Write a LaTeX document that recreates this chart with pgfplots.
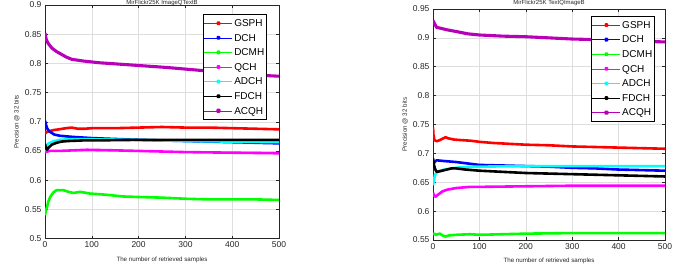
\documentclass[border=0pt]{standalone}
\usepackage{fontspec}
\setmainfont{Liberation Sans}
\usepackage{pgfplots}
\pgfplotsset{compat=1.18}
\definecolor{axgray}{rgb}{0.15,0.15,0.15}
\definecolor{gridgray}{rgb}{0.87,0.87,0.87}
\definecolor{cRed}{rgb}{1,0,0}
\definecolor{cBlue}{rgb}{0,0,1}
\definecolor{cGreen}{rgb}{0,1,0}
\definecolor{cMag}{rgb}{1,0,1}
\definecolor{cCyan}{rgb}{0,1,1}
\definecolor{cPurp}{rgb}{0.72,0,0.72}
\pgfplotsset{
  mystyle/.style={
    scale only axis,
    anchor=south west,
    xmin=0, xmax=500,
    xtick={0,100,...,500},
    grid=major,
    major grid style={gridgray, line width=0.5pt},
    axis line style={axgray, line width=0.6pt},
    every tick/.style={axgray, line width=0.5pt},
    major tick length=3pt,
    tick align=inside,
    tick label style={font=\fontsize{8.5}{10}\selectfont, text=axgray},
    /pgf/number format/assume math mode=true,
    yticklabel style={/pgf/number format/fixed, /pgf/number format/precision=2},
    xticklabel style={/pgf/number format/fixed},
    label style={font=\fontsize{6.2}{7}\selectfont, text=axgray},
    every axis title/.style={font=\fontsize{6}{7}\selectfont, text=axgray, at={(axis description cs:0.5,1)}, anchor=base, inner sep=0pt},
    xlabel style={at={(axis description cs:0.5,-0.09)}, anchor=center},
    ylabel style={at={(axis description cs:-0.12,0.5)}, anchor=center},
    xlabel={The number of retrieved samples},
    ylabel={Precision @ 32 bits},
    every axis plot/.append style={line width=2.6pt, line join=round},
    legend image code/.code={\draw[line width=0.6pt] (0pt,0pt) -- (28pt,0pt); \fill (14pt,0pt) circle (1pt);},
    legend cell align=left,
    legend style={font=\fontsize{10}{12}\selectfont, draw=black, line width=0.6pt, fill=white, anchor=north east,
      inner xsep=1pt, inner ysep=1.5pt, row sep=0pt,
      nodes={inner sep=1.5pt, text height=9pt, text depth=2.6pt}},
  }
}
\begin{document}
\begin{tikzpicture}[x=1pt,y=1pt]
\path[use as bounding box] (0,0) rectangle (693,268);
% ---------- Left panel ----------
\begin{axis}[mystyle, at={(45pt,29.5pt)}, width=234pt, height=233.5pt,
  ymin=0.5, ymax=0.9, ytick={0.5,0.55,...,0.91},
  title={MirFlickr25K  ImageQTextB}, title style={yshift=0.6pt},
  legend style={at={(rel axis cs:0.949,0.961)}}]
\addplot[cRed] coordinates {(0,0.680)(5,0.683)(10,0.684)(20,0.686)(30,0.687)(45,0.689)(57,0.690)(70,0.688)(85,0.688)(100,0.689)(150,0.689)(200,0.690)(250,0.691)(300,0.690)(350,0.690)(400,0.689)(450,0.688)(500,0.687)};
\addlegendentry{GSPH}
\addplot[cBlue] coordinates {(0,0.702)(2,0.695)(5,0.688)(10,0.683)(20,0.678)(32,0.676)(60,0.674)(100,0.672)(132,0.671)(200,0.669)(300,0.667)(400,0.665)(500,0.663)};
\addlegendentry{DCH}
\addplot[cGreen] coordinates {(0,0.540)(2,0.548)(4,0.553)(7,0.563)(11,0.571)(18,0.579)(25,0.583)(39,0.583)(50,0.580)(61,0.578)(75,0.580)(96,0.577)(130,0.575)(167,0.572)(203,0.571)(250,0.570)(303,0.568)(350,0.567)(400,0.567)(450,0.567)(500,0.566)};
\addlegendentry{DCMH}
\addplot[cMag] coordinates {(0,0.648)(10,0.650)(30,0.650)(60,0.651)(90,0.652)(150,0.651)(200,0.650)(300,0.648)(400,0.647)(500,0.646)};
\addlegendentry{QCH}
\addplot[cCyan] coordinates {(0,0.650)(3,0.658)(6,0.662)(10,0.664)(20,0.667)(30,0.669)(50,0.670)(100,0.670)(200,0.669)(300,0.667)(400,0.666)(500,0.665)};
\addlegendentry{ADCH}
\addplot[black] coordinates {(0,0.662)(2,0.655)(4,0.652)(8,0.656)(15,0.661)(25,0.664)(35,0.666)(50,0.667)(80,0.668)(100,0.668)(200,0.669)(300,0.669)(400,0.669)(500,0.669)};
\addlegendentry{FDCH}
\addplot[cPurp, line width=3.1pt] coordinates {(0,0.852)(3,0.840)(7,0.834)(15,0.826)(25,0.820)(32,0.817)(45,0.811)(57,0.807)(82,0.804)(117,0.801)(189,0.797)(260,0.793)(332,0.788)(404,0.783)(475,0.779)(500,0.778)};
\addlegendentry{ACQH}
\end{axis}
% ---------- Right panel ----------
\begin{axis}[mystyle, at={(433pt,28pt)}, width=232pt, height=231pt,
  ymin=0.55, ymax=0.95, ytick={0.55,0.6,...,0.96},
  title={MirFlickr25K  TextQImageB}, title style={yshift=4.4pt},
  legend style={at={(rel axis cs:0.957,0.970)}}]
\addplot[cRed] coordinates {(0,0.745)(1,0.732)(3,0.723)(8,0.721)(15,0.723)(22,0.726)(27,0.728)(33,0.726)(45,0.724)(60,0.723)(80,0.722)(100,0.720)(130,0.718)(200,0.715)(250,0.714)(300,0.712)(350,0.711)(400,0.710)(450,0.709)(500,0.708)};
\addlegendentry{GSPH}
\addplot[cBlue] coordinates {(0,0.678)(3,0.685)(8,0.688)(20,0.687)(50,0.685)(80,0.682)(100,0.680)(150,0.679)(200,0.678)(250,0.677)(300,0.675)(350,0.674)(400,0.672)(450,0.671)(500,0.670)};
\addlegendentry{DCH}
\addplot[cGreen] coordinates {(0,0.560)(3,0.561)(6,0.559)(10,0.560)(15,0.561)(20,0.558)(27,0.556)(35,0.558)(50,0.559)(80,0.560)(100,0.559)(150,0.560)(200,0.561)(300,0.562)(400,0.562)(500,0.562)};
\addlegendentry{DCMH}
\addplot[cMag] coordinates {(0,0.632)(3,0.626)(6,0.625)(10,0.628)(20,0.634)(30,0.637)(50,0.640)(80,0.642)(100,0.642)(200,0.643)(300,0.644)(400,0.644)(500,0.644)};
\addlegendentry{QCH}
\addplot[cCyan] coordinates {(0,0.645)(2,0.652)(4,0.662)(8,0.668)(15,0.670)(25,0.672)(40,0.674)(60,0.676)(100,0.677)(200,0.678)(300,0.678)(400,0.678)(500,0.678)};
\addlegendentry{ADCH}
\addplot[black] coordinates {(0,0.692)(2,0.680)(5,0.672)(8,0.668)(15,0.669)(25,0.671)(40,0.674)(50,0.674)(70,0.672)(100,0.670)(150,0.668)(200,0.666)(250,0.665)(300,0.664)(350,0.663)(400,0.662)(450,0.661)(500,0.660)};
\addlegendentry{FDCH}
\addplot[cPurp, line width=3.1pt] coordinates {(0,0.930)(3,0.925)(8,0.918)(15,0.917)(30,0.914)(50,0.911)(75,0.907)(100,0.905)(150,0.903)(200,0.902)(250,0.900)(300,0.898)(350,0.897)(400,0.895)(450,0.894)(500,0.893)};
\addlegendentry{ACQH}
\end{axis}
\end{tikzpicture}
\end{document}
